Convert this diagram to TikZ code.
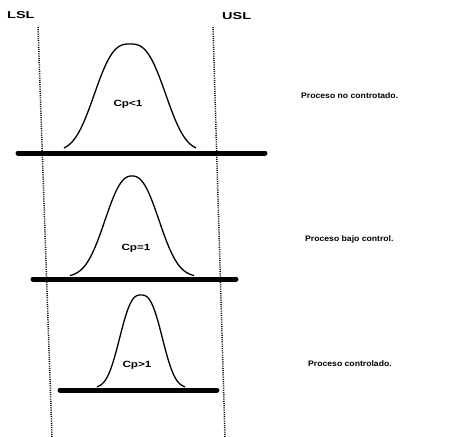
\documentclass[tikz,border=0pt]{standalone}
\usepackage{fontspec}
\setmainfont{Liberation Sans}
\newfontfamily\widelim[FakeStretch=1.45]{Liberation Sans}
\newfontfamily\widecp[FakeStretch=1.3]{Liberation Sans}
\newfontfamily\widedesc[FakeStretch=1.08]{Liberation Sans}
\begin{document}
\begin{tikzpicture}[x=1pt,y=-1pt,
  lim/.style={font=\widelim\bfseries\fontsize{10}{12}\selectfont, inner sep=0pt, anchor=base west},
  cplab/.style={font=\widecp\bfseries\fontsize{9}{11}\selectfont, inner sep=0pt},
  desc/.style={font=\widedesc\bfseries\fontsize{8}{10}\selectfont, inner sep=0pt, anchor=base west},
  limline/.style={line width=1.5pt, dash pattern=on 1pt off 1.2pt},
  baseln/.style={line width=5pt, line cap=round},
  bell/.style={line width=1.3pt, line join=round}]
\useasboundingbox (0,0) rectangle (472,437);
% limit lines
\coordinate (lt) at (38,27); \coordinate (lb) at (52,437);
\coordinate (ut) at (213,27); \coordinate (ub) at (225,437);
\draw[limline] (lt) -- (lb);
\draw[limline] (ut) -- (ub);
\node[lim] (lsl) at (7,18) {LSL};
\node[lim] (usl) at (222,19) {USL};
% curve 1
\draw[bell] plot[domain=-66:66, samples=120] ({130+\x}, {151 - 107*exp(-((abs(\x)+0.01)/42)^2.8)});
\coordinate (b1l) at (18,153); \coordinate (b1r) at (265,153);
\draw[baseln] (b1l) -- (b1r);
\node[cplab] (cp1) at (128,104) {Cp<1};
% curve 2
\draw[bell] plot[domain=-62:62, samples=120] ({132+\x}, {277 - 101*exp(-((abs(\x)+0.01)/34)^2.4)});
\coordinate (b2l) at (33,279); \coordinate (b2r) at (236,279);
\draw[baseln] (b2l) -- (b2r);
\node[cplab] (cp2) at (136,248) {Cp=1};
% curve 3
\draw[bell] plot[domain=-44:44, samples=120] ({141+\x}, {388 - 93*exp(-((abs(\x)+0.01)/25.5)^2.7)});
\coordinate (b3l) at (60,390); \coordinate (b3r) at (217,390);
\draw[baseln] (b3l) -- (b3r);
\node[cplab] (cp3) at (137,365) {Cp>1};
% descriptions
\node[desc] (d1) at (301,98) {Proceso no controtado.};
\node[desc] (d2) at (305,241) {Proceso bajo control.};
\node[desc] (d3) at (308,366) {Proceso controlado.};
\end{tikzpicture}
\end{document}
